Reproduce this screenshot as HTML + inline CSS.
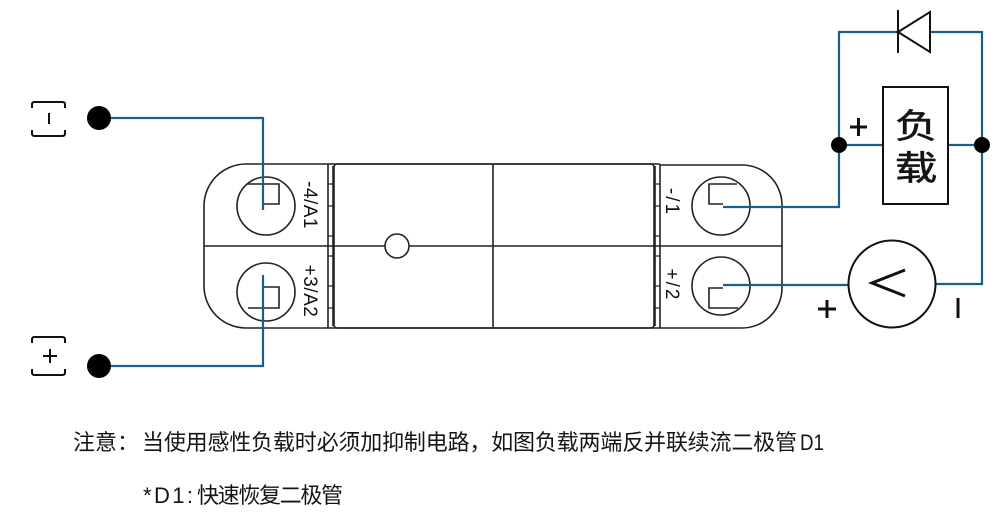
<!DOCTYPE html>
<html>
<head>
<meta charset="utf-8">
<style>
  html,body{margin:0;padding:0;background:#fff;}
  svg{display:block;}
  .lbl{font-family:"Liberation Sans","DejaVu Sans",sans-serif;font-size:19px;fill:#111;}
  .cjk{font-family:"Liberation Sans","Noto Sans CJK SC",sans-serif;fill:#151515;}
</style>
</head>
<body>
<svg width="1000" height="514" viewBox="0 0 1000 514" xmlns="http://www.w3.org/2000/svg">
  <rect width="1000" height="514" fill="#fff"/>

  <!-- Device outline -->
  <g fill="none" stroke="#222" stroke-width="1.6">
    <path d="M328 164 H246 A42 42 0 0 0 204 206 V286 A42 42 0 0 0 246 328 H328"/>
    <path d="M660 165 H742 A40 40 0 0 1 782 205 V288 A40 40 0 0 1 742 328 H660"/>
    <line x1="328" y1="164" x2="660" y2="164"/>
    <line x1="328" y1="328" x2="660" y2="328"/>
    <line x1="328" y1="164" x2="328" y2="328"/>
    <line x1="333" y1="166" x2="333" y2="326"/>
    <line x1="655" y1="166" x2="655" y2="326"/>
    <line x1="660" y1="164" x2="660" y2="328"/>
    <rect x="334" y="164" width="320" height="164" rx="3"/>
    <line x1="493" y1="164" x2="493" y2="328"/>
    <line x1="204" y1="246" x2="782" y2="246"/>
  </g>
  <g stroke="#222" stroke-width="1.2">
    <line x1="328" y1="184" x2="333" y2="184"/><line x1="328" y1="206" x2="333" y2="206"/>
    <line x1="328" y1="236" x2="333" y2="236"/><line x1="328" y1="256" x2="333" y2="256"/>
    <line x1="328" y1="286" x2="333" y2="286"/><line x1="328" y1="308" x2="333" y2="308"/>
    <line x1="655" y1="184" x2="660" y2="184"/><line x1="655" y1="206" x2="660" y2="206"/>
    <line x1="655" y1="236" x2="660" y2="236"/><line x1="655" y1="256" x2="660" y2="256"/>
    <line x1="655" y1="286" x2="660" y2="286"/><line x1="655" y1="308" x2="660" y2="308"/>
  </g>
  <circle cx="397" cy="246" r="12" fill="#fff" stroke="#222" stroke-width="1.6"/>

  <!-- Terminals -->
  <g fill="none" stroke="#222" stroke-width="1.6">
    <circle cx="266" cy="206" r="29"/>
    <circle cx="266" cy="292" r="29"/>
    <circle cx="721" cy="206" r="29"/>
    <circle cx="721" cy="286" r="29"/>
    <path d="M247 184 H279 V204 H263"/>
    <path d="M263 287 H279 V308 H248"/>
    <path d="M737 184 H709 V204 H723"/>
    <path d="M723 288 H709 V308 H738"/>
  </g>

  <!-- Terminal labels (rotated) -->
  <text class="lbl" transform="translate(304,205) rotate(90)" text-anchor="middle" letter-spacing="0.5">-4/A1</text>
  <text class="lbl" transform="translate(304,291) rotate(90)" text-anchor="middle" letter-spacing="0.5">+3/A2</text>
  <text class="lbl" transform="translate(666,202) rotate(90)" text-anchor="middle" letter-spacing="2">-/1</text>
  <text class="lbl" transform="translate(666,285) rotate(90)" text-anchor="middle" letter-spacing="2">+/2</text>

  <!-- Blue wires -->
  <g fill="none" stroke="#17608e" stroke-width="2.2">
    <path d="M111 118 H263 V210"/>
    <path d="M111 366 H263 V275"/>
    <path d="M723 207 H839 V32 H898"/>
    <path d="M930 32 H982 V284 H935"/>
    <path d="M839 145 H883"/>
    <path d="M948 145 H982"/>
    <path d="M723 285 H848"/>
  </g>

  <!-- Left input brackets and dots -->
  <g fill="none" stroke="#111" stroke-width="2">
    <path d="M32 108 V104.5 Q32 102 34.5 102 H62.5 Q65 102 65 104.5 V108"/>
    <path d="M32 130 V133.5 Q32 136 34.5 136 H62.5 Q65 136 65 133.5 V130"/>
    <line x1="49" y1="113" x2="49" y2="124"/>
    <path d="M32 343 V339.5 Q32 337 34.5 337 H62.5 Q65 337 65 339.5 V343"/>
    <path d="M32 369 V372.5 Q32 375 34.5 375 H62.5 Q65 375 65 372.5 V369"/>
    <line x1="43" y1="356" x2="57" y2="356"/>
    <line x1="50" y1="349" x2="50" y2="363"/>
  </g>
  <circle cx="99" cy="118" r="12" fill="#000"/>
  <circle cx="99" cy="366" r="12" fill="#000"/>

  <!-- Diode -->
  <line x1="898" y1="10" x2="898" y2="53" stroke="#111" stroke-width="2"/>
  <polygon points="898,32 930,12 930,52" fill="#fff" stroke="#111" stroke-width="2"/>

  <!-- Load box -->
  <rect x="883" y="87" width="65" height="117" fill="#fff" stroke="#111" stroke-width="2"/>
  <text class="cjk" transform="translate(916,138) scale(1.12,0.9)" text-anchor="middle" font-size="38" stroke="#151515" stroke-width="0.6">负</text>
  <text class="cjk" transform="translate(916,180) scale(1.12,0.9)" text-anchor="middle" font-size="38" stroke="#151515" stroke-width="0.6">载</text>

  <!-- Junction dots -->
  <circle cx="839" cy="145" r="8" fill="#000"/>
  <circle cx="982" cy="145" r="8" fill="#000"/>

  <!-- + near load -->
  <g stroke="#111" stroke-width="3">
    <line x1="850" y1="127" x2="867" y2="127"/>
    <line x1="858.5" y1="118" x2="858.5" y2="136"/>
  </g>

  <!-- Voltmeter -->
  <circle cx="892" cy="284" r="43.5" fill="#fff" stroke="#111" stroke-width="2"/>
  <polyline points="905,270 872,283 905,296" fill="none" stroke="#111" stroke-width="3"/>
  <g stroke="#111" stroke-width="3">
    <line x1="818" y1="309" x2="836" y2="309"/>
    <line x1="827" y1="300" x2="827" y2="318"/>
    <line x1="958" y1="298" x2="958" y2="318"/>
  </g>

  <!-- Notes -->
  <text class="cjk" x="73" y="450" font-size="22" textLength="66" lengthAdjust="spacing">注意：</text>
  <text class="cjk" x="142" y="450" font-size="22" textLength="655" lengthAdjust="spacing">当使用感性负载时必须加抑制电路，如图负载两端反并联续流二极管</text>
  <text class="cjk" x="800" y="450" font-size="22" textLength="24" lengthAdjust="spacingAndGlyphs">D1</text>
  <text class="cjk" x="143" y="503" font-size="22" textLength="50" lengthAdjust="spacing">*D1:</text>
  <text class="cjk" x="197" y="503" font-size="22" textLength="146" lengthAdjust="spacing">快速恢复二极管</text>
</svg>
</body>
</html>
